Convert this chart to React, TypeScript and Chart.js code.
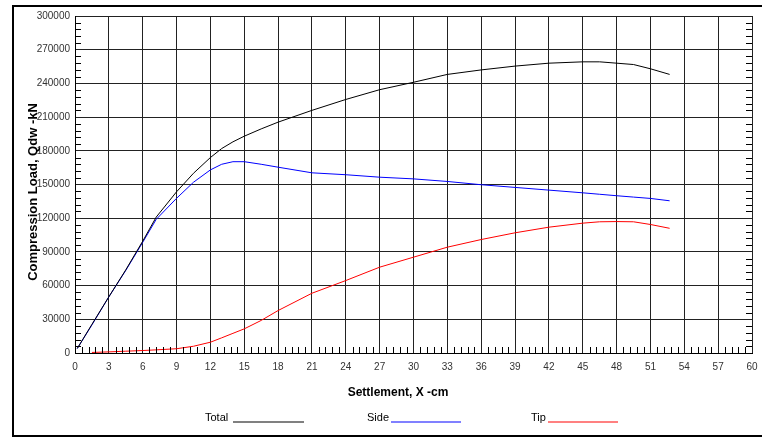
import React, { useEffect, useRef } from "react";
import { Chart, registerables } from "chart.js";

Chart.register(...registerables);

const settlement = [0.2, 1.5, 3, 4.5, 6, 7.2, 9, 10.5, 12, 13, 14, 15, 16.5, 18, 21, 24, 27, 30, 33, 36, 39, 42, 45, 46.5, 48, 49.5, 51, 52.7];
const totalLoad = [4000, 25500, 50000, 74000, 99500, 121000, 143500, 160000, 174000, 182000, 188000, 193000, 199500, 205500, 216000, 225700, 234400, 241000, 248000, 252000, 255400, 258000, 259200, 259200, 258000, 256800, 253000, 248000];
const sideLoad = [4000, 25000, 50000, 73500, 98500, 119000, 137700, 152000, 163000, 168000, 170300, 170300, 168000, 165400, 160400, 158700, 156500, 155000, 152700, 149800, 147400, 145000, 142600, 141300, 140000, 138800, 137600, 135500];
const tipLoad = [null, 500, 1000, 1600, 2200, 2800, 3800, 6000, 9600, 13500, 17500, 21500, 29000, 37800, 53200, 64500, 76400, 85300, 94200, 101000, 107000, 112000, 115600, 116800, 117000, 116800, 114400, 111000];

const seriesNames = ["Total", "Side", "Tip"];
const xTitle = "Settlement, X -cm";
const yTitle = "Compression Load, Qdw -kN";

const FONT = "Arial, 'Liberation Sans', sans-serif";

function toPoints(vals: (number | null)[]) {
  const pts: { x: number; y: number }[] = [];
  vals.forEach((v, i) => {
    if (v !== null) pts.push({ x: settlement[i], y: v });
  });
  return pts;
}

const decorPlugin = {
  id: "decor",
  afterDraw(chart: any) {
    const ctx = chart.ctx;
    const { left, right, top, bottom } = chart.chartArea;
    const xs = chart.scales.x;
    const ys = chart.scales.y;
    ctx.save();
    // minor ticks
    ctx.strokeStyle = "#000";
    ctx.lineWidth = 1;
    ctx.beginPath();
    for (let v = 6000; v < 300000; v += 6000) {
      if (v % 30000 === 0) continue;
      const y = Math.round(ys.getPixelForValue(v)) + 0.5;
      ctx.moveTo(left, y);
      ctx.lineTo(left + 6, y);
      ctx.moveTo(right - 6, y);
      ctx.lineTo(right, y);
    }
    for (let i = 1; i < 100; i++) {
      if (i % 5 === 0) continue;
      const v = i * 0.6;
      const x = Math.round(xs.getPixelForValue(v)) + 0.5;
      ctx.moveTo(x, bottom);
      ctx.lineTo(x, bottom - 6);
    }
    ctx.stroke();

    // outer frame
    ctx.fillStyle = "#000";
    ctx.fillRect(12, 5, 2, 432);
    ctx.fillRect(12, 5, 760, 2);
    ctx.fillRect(12, 435, 760, 2);

    // axis titles
    ctx.fillStyle = "#000";
    ctx.font = "bold 12px " + FONT;
    ctx.textAlign = "center";
    ctx.textBaseline = "middle";
    ctx.fillText(xTitle, 398, 393);
    ctx.save();
    ctx.font = "bold 13px " + FONT;
    ctx.translate(33, 192);
    ctx.rotate(-Math.PI / 2);
    ctx.fillText(yTitle, 0, 0);
    ctx.restore();

    // legend
    const legend = [
      { name: seriesNames[0], tx: 205, l0: 233, l1: 304, color: "#808080" },
      { name: seriesNames[1], tx: 367, l0: 391, l1: 461, color: "#8080ff" },
      { name: seriesNames[2], tx: 531, l0: 548, l1: 618, color: "#ff8080" },
    ];
    ctx.font = "11px " + FONT;
    ctx.textAlign = "left";
    legend.forEach((l) => {
      ctx.fillStyle = "#000";
      ctx.fillText(l.name, l.tx, 418);
      ctx.fillStyle = l.color;
      ctx.fillRect(l.l0, 421, l.l1 - l.l0, 2);
    });
    ctx.restore();
  },
};

export default function App() {
  const ref = useRef<HTMLCanvasElement>(null);
  useEffect(() => {
    if (!ref.current) return;
    const chart = new Chart(ref.current, {
      type: "scatter",
      data: {
        datasets: [
          { label: seriesNames[0], data: toPoints(totalLoad), borderColor: "#000000", backgroundColor: "#000000" },
          { label: seriesNames[1], data: toPoints(sideLoad), borderColor: "#0000ff", backgroundColor: "#0000ff" },
          { label: seriesNames[2], data: toPoints(tipLoad), borderColor: "#ff0000", backgroundColor: "#ff0000" },
        ].map((d) => ({ ...d, showLine: true, pointRadius: 0, borderWidth: 1, tension: 0, fill: false })),
      },
      options: {
        animation: false,
        responsive: false,
        maintainAspectRatio: false,
        layout: { padding: { top: 16, right: 10, left: 0, bottom: 0 } },
        plugins: { legend: { display: false }, tooltip: { enabled: false }, title: { display: false } },
        scales: {
          x: {
            type: "linear",
            min: 0,
            max: 60,
            afterFit: (s: any) => { s.height = 85; s.paddingRight = 0; s.paddingLeft = 0; },
            ticks: { stepSize: 3, color: "#333", font: { family: FONT, size: 10 }, padding: 8, maxRotation: 0, autoSkip: false },
            grid: { color: "#222", lineWidth: 1, drawTicks: false },
            border: { color: "#000", width: 1 },
          },
          y: {
            type: "linear",
            min: 0,
            max: 300000,
            afterFit: (s: any) => { s.width = 75; s.paddingTop = 0; s.paddingBottom = 0; },
            ticks: { stepSize: 30000, color: "#333", font: { family: FONT, size: 10 }, padding: 5, callback: (v: any) => String(v) },
            grid: { color: "#222", lineWidth: 1, drawTicks: false },
            border: { color: "#000", width: 1 },
          },
        },
      },
      plugins: [decorPlugin],
    });
    return () => chart.destroy();
  }, []);
  return (
    <div style={{ position: "absolute", left: 0, top: 0, width: 762, height: 438, background: "#fff" }}>
      <canvas ref={ref} width={762} height={438} style={{ display: "block" }} />
    </div>
  );
}
